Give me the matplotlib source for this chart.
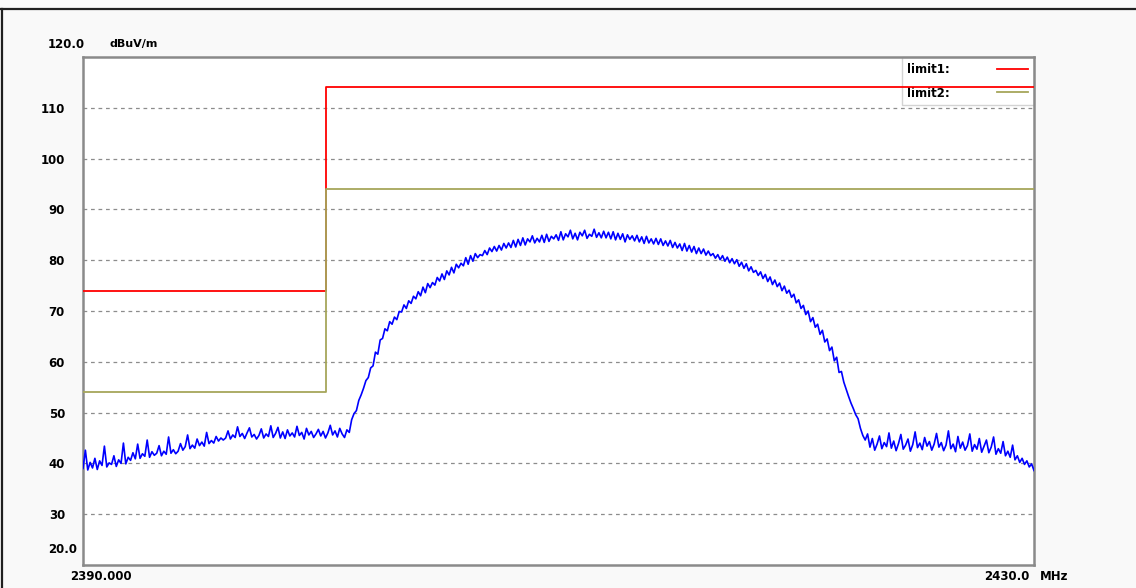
import numpy as np
import matplotlib
matplotlib.use("Agg")
import matplotlib.pyplot as plt
from matplotlib.lines import Line2D

# sweep 2390 - 2430 MHz, 0.1 MHz per point, level in dBuV/m
f_start = 2390.0
f_stop = 2430.0
level = [
    39.0, 42.6, 38.7, 40.2, 39.1, 41.0, 38.8, 40.5, 39.6, 43.4, 39.3, 40.1, 39.8, 41.5, 39.4, 40.7, 40.0, 44.0, 39.9, 41.2,
    40.6, 42.1, 40.9, 43.8, 41.0, 41.9, 41.4, 44.6, 41.2, 42.3, 41.6, 42.0, 43.5, 41.5, 42.4, 41.8, 45.2, 42.0, 42.7, 41.9,
    42.4, 43.9, 42.6, 43.3, 45.6, 42.9, 43.6, 43.0, 44.8, 43.5, 44.2, 43.4, 46.1, 43.9, 44.5, 44.0, 45.3, 44.4, 45.0, 44.6,
    45.0, 46.4, 44.8, 45.6, 45.1, 47.2, 45.3, 45.9, 44.9, 46.0, 47.0, 45.2, 45.7, 44.8, 45.5, 46.8, 45.0, 45.8, 45.3, 47.4,
    45.1, 45.9, 47.1, 45.0, 46.2, 44.9, 46.6, 45.4, 46.0, 45.2, 47.3, 45.5, 46.1, 44.8, 46.9, 45.6, 46.3, 45.1, 45.8, 46.7,
    45.4, 46.3, 45.0, 46.0, 47.5, 45.6, 46.4, 45.2, 46.9, 45.8, 45.1, 46.6, 46.1, 48.6, 49.8, 50.4, 52.4, 53.5, 54.8, 56.3,
    56.9, 58.8, 59.2, 61.9, 61.5, 64.3, 64.6, 66.5, 66.1, 67.9, 67.4, 68.8, 68.3, 69.9, 69.8, 71.2, 70.5, 72.0, 71.5, 72.9,
    72.4, 73.8, 73.0, 74.7, 73.6, 75.4, 74.6, 75.6, 75.1, 76.6, 75.9, 77.3, 76.2, 77.9, 77.1, 78.6, 77.5, 79.2, 78.5, 79.4,
    78.9, 80.5, 79.2, 80.9, 79.8, 81.3, 80.5, 81.1, 80.9, 81.9, 81.1, 82.4, 81.7, 82.7, 81.8, 82.9, 82.0, 83.3, 82.4, 83.4,
    82.5, 83.9, 82.6, 84.1, 82.9, 84.4, 83.0, 84.2, 83.6, 84.8, 83.4, 84.3, 83.6, 84.9, 83.5, 85.1, 83.7, 84.7, 84.2, 85.0,
    83.9, 85.6, 84.0, 85.2, 84.6, 85.9, 84.2, 85.3, 84.0, 85.5, 84.8, 85.9, 84.3, 85.1, 84.7, 86.1, 84.5, 85.4, 84.4, 85.7,
    84.4, 85.5, 84.2, 85.6, 84.0, 85.3, 84.1, 85.2, 83.6, 85.0, 84.1, 84.8, 83.8, 84.9, 83.6, 84.6, 83.3, 84.7, 83.4, 84.2,
    83.2, 84.3, 83.1, 84.2, 82.9, 83.8, 82.8, 83.9, 82.5, 83.5, 82.4, 83.2, 81.9, 83.3, 81.8, 82.9, 81.6, 82.7, 81.3, 82.4,
    81.3, 82.2, 81.0, 81.8, 80.9, 81.3, 80.4, 81.1, 80.1, 80.9, 79.8, 80.6, 79.5, 80.3, 79.3, 80.1, 78.8, 79.6, 78.4, 79.3,
    77.9, 78.7, 77.6, 78.0, 77.0, 77.7, 76.4, 77.2, 75.8, 76.7, 75.2, 76.1, 74.8, 75.5, 74.0, 74.9, 73.5, 74.1, 72.7, 73.3,
    71.6, 72.2, 70.5, 71.1, 69.3, 70.0, 67.9, 68.7, 66.8, 67.4, 65.4, 66.2, 63.9, 64.5, 62.2, 62.9, 60.2, 60.9, 57.9, 58.1,
    56.0, 54.6, 53.2, 51.9, 50.8, 49.6, 48.8, 46.9, 45.5, 44.6, 45.8, 43.2, 44.9, 42.6, 43.8, 45.4, 42.9, 44.1, 43.3, 46.0,
    43.0, 44.4, 42.5, 43.9, 45.7, 42.8, 43.6, 44.8, 42.4, 43.7, 46.2, 43.1, 44.0, 42.7, 45.1, 43.4, 44.3, 42.6, 43.8, 45.9,
    43.2, 44.1, 42.5, 43.6, 46.4, 42.9, 43.8, 42.3, 45.3, 43.0, 44.2, 42.6, 43.5, 45.8, 42.4, 43.7, 42.8, 44.9, 42.2, 43.4,
    44.6, 42.1, 43.2, 45.2, 41.8, 42.9, 42.0, 44.3, 41.5, 42.4, 41.2, 43.6, 40.7, 41.5, 40.2, 41.0, 39.8, 40.5, 39.3, 39.9,
    38.6,
]

# limit lines (step at the band edge)
limit_freq = [2390.0, 2400.2, 2430.0]
limit1 = [74, 114, 114]
limit2 = [54, 94, 94]

yticks = [30, 40, 50, 60, 70, 80, 90, 100, 110]

freq = np.linspace(f_start, f_stop, len(level))

fig = plt.figure(figsize=(11.36, 5.88), dpi=100, facecolor="#f9f9f9")
ax = fig.add_axes([83 / 1136, 1 - 565 / 588, (1034 - 83) / 1136, (565 - 57) / 588])
ax.set_facecolor("white")

for v in yticks:
    ax.axhline(v, color="#8c8c8c", lw=0.9, ls=(0, (3, 3)), zorder=1)

ax.step(limit_freq, limit1, where="post", color="#ff0000", lw=1.3, zorder=4, label="limit1:")
ax.step(limit_freq, limit2, where="post", color="#a6a65a", lw=1.3, zorder=4, label="limit2:")
ax.plot(freq, level, color="#0000ff", lw=1.2, zorder=3)

ax.set_xlim(f_start, f_stop)
ax.set_ylim(20, 120)
ax.set_xticks([])
ax.set_yticks(yticks)
ax.set_yticklabels([str(v) for v in yticks], fontsize=8.5, fontweight="bold")
ax.tick_params(axis="y", length=0, pad=13)
for s in ax.spines.values():
    s.set_color("#8a8a8a")
    s.set_linewidth(1.8)

ax.text(-0.037, 1.025, "120.0", transform=ax.transAxes, fontsize=8.5, fontweight="bold", ha="left", va="center")
ax.text(0.028, 1.025, "dBuV/m", transform=ax.transAxes, fontsize=8, fontweight="bold", ha="left", va="center")
ax.text(-0.037, 0.03, "20.0", transform=ax.transAxes, fontsize=8.5, fontweight="bold", ha="left", va="center")
ax.text(-0.014, -0.023, "2390.000", transform=ax.transAxes, fontsize=8.5, fontweight="bold", ha="left", va="center")
ax.text(0.948, -0.023, "2430.0", transform=ax.transAxes, fontsize=8.5, fontweight="bold", ha="left", va="center")
ax.text(1.006, -0.023, "MHz", transform=ax.transAxes, fontsize=8.5, fontweight="bold", ha="left", va="center")

leg = ax.legend(loc="upper right", markerfirst=False, frameon=True, fancybox=False,
                handlelength=2.6, handletextpad=4.0, borderpad=0.5, borderaxespad=0.0,
                labelspacing=0.9, edgecolor="#c8c8c8", prop={"weight": "bold", "size": 8.5})
leg.set_zorder(2)

# window frame
fig.add_artist(Line2D([0, 1], [1 - 9 / 588] * 2, transform=fig.transFigure, color="#202020", lw=1.6))
fig.add_artist(Line2D([2 / 1136] * 2, [0, 1 - 9 / 588], transform=fig.transFigure, color="#202020", lw=1.6))

fig.savefig("out.png", dpi=100, facecolor=fig.get_facecolor())
